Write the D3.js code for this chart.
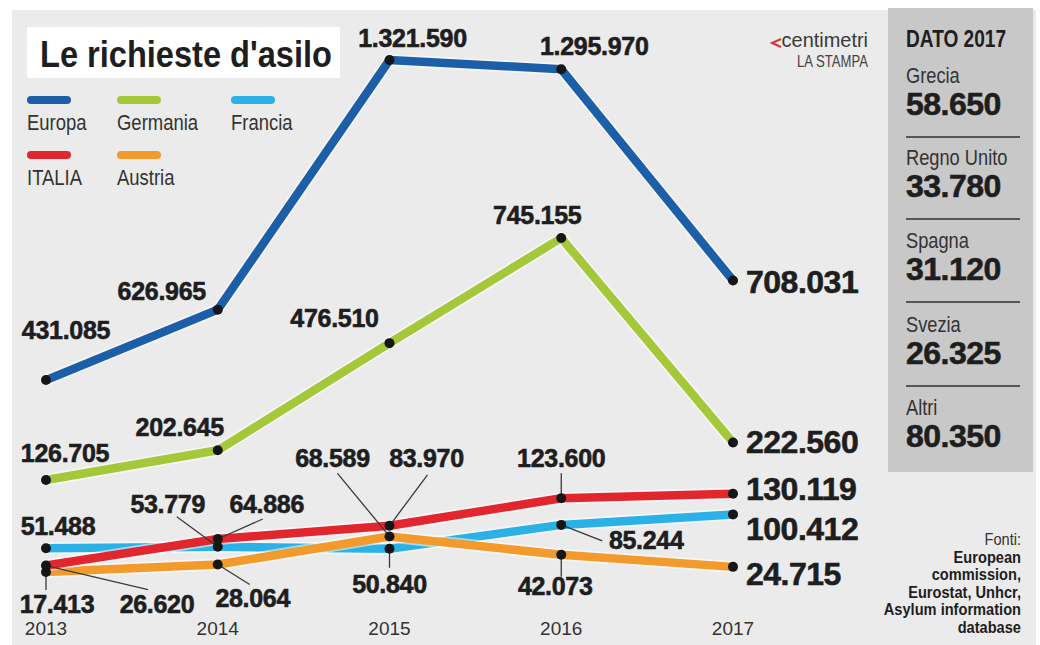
<!DOCTYPE html>
<html><head><meta charset="utf-8">
<script src="https://cdn.jsdelivr.net/npm/d3@7"></script>
<style>
html,body{margin:0;padding:0;background:#fff;}
svg{display:block;}
text{font-family:"Liberation Sans",Arial,sans-serif;}
.num{font-weight:bold;fill:#1e1e1e;stroke:#1e1e1e;stroke-width:0.6;}
</style></head>
<body>
<script>
// ---- data ----
const years = ["2013", "2014", "2015", "2016", "2017"];
const europa = [431085, 626965, 1321590, 1295970, 708031];
const germania = [126705, 202645, 476510, 745155, 222560];
const francia = [51488, 53779, 50840, 85244, 100412];
const italia = [26620, 64886, 83970, 123600, 130119];
const austria = [17413, 28064, 68589, 42073, 24715];
const seriesNames = ["Europa", "Germania", "Francia", "ITALIA", "Austria"];
const panelTitle = "DATO 2017";
const panelCountries = ["Grecia", "Regno Unito", "Spagna", "Svezia", "Altri"];
const panelValues = [58650, 33780, 31120, 26325, 80350];
const sources = ["European", "commission,", "Eurostat, Unhcr,", "Asylum information", "database"];

const W = 1040, H = 645;
const fmt = d3.formatLocale({decimal: ",", thousands: ".", grouping: [3], currency: ["", "€"]}).format(",d");

const svg = d3.select("body").append("svg").attr("width", W).attr("height", H);

// condensed text helper (horizontal squeeze)
function ntext(parent, x, y, str, size, opts = {}) {
  const g = parent.append("g").attr("transform", `translate(${x},${y}) scale(${opts.sx || 0.84},1)`);
  return g.append("text").attr("x", 0).attr("y", 0)
    .attr("font-size", size)
    .attr("font-weight", opts.bold ? "bold" : "normal")
    .attr("fill", opts.fill || "#333")
    .attr("text-anchor", opts.anchor || "start")
    .text(str);
}

// background panels
svg.append("rect").attr("x", 12).attr("y", 10).attr("width", 1024).attr("height", 635).attr("fill", "#ebebeb");
svg.append("rect").attr("x", 888).attr("y", 8).attr("width", 145).attr("height", 464).attr("fill", "#c8c8c8");

// scales (the original infographic uses separate, non-shared scales)
const x = d3.scalePoint().domain(years).range([46, 733]);
const yEU = d3.scaleLinear().domain([0, 1321590]).range([535, 60]);
const yDE = d3.scaleLinear().domain([0, 745155]).range([529.6, 238]);
const ySm = d3.scaleLinear().domain([0, 130119]).range([584, 493.8]);

const colors = {Europa: "#1c5ea7", Germania: "#a5c83b", Francia: "#2cb1e6", ITALIA: "#e2262d", Austria: "#f29b2c"};

// label placement: [dx, dy, anchor, size, leader dx, leader dy]
const S = 25, B = 32;
const series = [
  {name: "Francia", values: francia, y: ySm, labels: [
    [12, -13, "middle", S], [-50, -34, "middle", S, -41, -30], [0, 44, "middle", S, 0, 19], [85, 24, "middle", S, 41, 16], [13, 26, "start", B]]},
  {name: "Austria", values: austria, y: ySm, labels: [
    [11, 41, "middle", S, 0, 18], [35, 42, "middle", S, 32, 20], [-57, -69, "middle", S, -52, -63], [-6, 40, "middle", S, 0, 22], [13, 18, "start", B]]},
  {name: "ITALIA", values: italia, y: ySm, labels: [
    [111, 47, "middle", S, 102, 24], [49, -26, "middle", S, 45, -20], [37, -59, "middle", S, 38, -51], [0, -31, "middle", S, 0, -25], [13, 6, "start", B]]},
  {name: "Germania", values: germania, y: yDE, labels: [
    [19, -18, "middle", S], [-38, -14, "middle", S], [-55, -16, "middle", S], [-24, -14, "middle", S], [13, 10.5, "start", B]]},
  {name: "Europa", values: europa, y: yEU, labels: [
    [20, -41, "middle", S], [-56, -10, "middle", S], [23, -13, "middle", S], [33, -14, "middle", S], [13, 12.5, "start", B]]}
];

// title box
svg.append("rect").attr("x", 27).attr("y", 27).attr("width", 313).attr("height", 51).attr("fill", "#fff");
svg.append("text").attr("x", 40).attr("y", 67)
  .attr("font-size", 37).attr("font-weight", "bold").attr("fill", "#1e1e1e")
  .attr("textLength", 292).attr("lengthAdjust", "spacingAndGlyphs")
  .text("Le richieste d'asilo");

// legend
const legendPos = [[27, 100], [117, 100], [231, 100], [27, 155], [117, 155]];
seriesNames.forEach((n, i) => {
  const [lx, ly] = legendPos[i];
  svg.append("line").attr("x1", lx + 4).attr("x2", lx + 40).attr("y1", ly).attr("y2", ly)
    .attr("stroke", colors[n]).attr("stroke-width", 8).attr("stroke-linecap", "round");
  ntext(svg, lx, ly + 30, n, 22, {sx: 0.84});
});

// logo
svg.append("path").attr("d", "M781,39 L772,43 L781,47").attr("fill", "none").attr("stroke", "#d8343c").attr("stroke-width", 2);
ntext(svg, 868, 47, "centimetri", 21, {anchor: "end", fill: "#3a3a3a", sx: 0.95});
ntext(svg, 868, 67, "LA STAMPA", 16, {anchor: "end", fill: "#444", sx: 0.82});

// lines
const g = svg.append("g");
series.forEach(s => {
  const line = d3.line().x((d, i) => x(years[i])).y(d => s.y(d));
  g.append("path").datum(s.values).attr("d", line).attr("fill", "none")
    .attr("stroke", "#fff").attr("stroke-opacity", 0.55).attr("stroke-width", 12).attr("stroke-linejoin", "round");
  g.append("path").datum(s.values).attr("d", line).attr("fill", "none")
    .attr("stroke", colors[s.name]).attr("stroke-width", 8.5).attr("stroke-linejoin", "round");
});

// leader lines
series.forEach(s => {
  s.values.forEach((v, i) => {
    const L = s.labels[i];
    if (L.length > 4) {
      const px = x(years[i]), py = s.y(v);
      svg.append("line").attr("x1", px + L[4]).attr("y1", py + L[5]).attr("x2", px).attr("y2", py)
        .attr("stroke", "#3a3a3a").attr("stroke-width", 1.3);
    }
  });
});

// dots
series.forEach(s => {
  svg.append("g").selectAll("circle").data(s.values).join("circle")
    .attr("cx", (d, i) => x(years[i])).attr("cy", d => s.y(d)).attr("r", 5).attr("fill", "#161616");
});

// value labels
series.forEach(s => {
  s.values.forEach((v, i) => {
    const L = s.labels[i];
    svg.append("text").attr("class", "num")
      .attr("x", x(years[i]) + L[0]).attr("y", s.y(v) + L[1])
      .attr("text-anchor", L[2]).attr("font-size", L[3])
      .attr("letter-spacing", L[3] === B ? -0.5 : -0.3)
      .text(fmt(v));
  });
});

// x axis labels
svg.append("g").selectAll("text").data(years).join("text")
  .attr("x", d => x(d)).attr("y", 635).attr("text-anchor", "middle")
  .attr("font-size", 19).attr("fill", "#333")
  .text(d => d);

// right panel
ntext(svg, 906, 47, panelTitle, 23, {bold: true, fill: "#1e1e1e", sx: 0.83});
const rowTop = [83, 165, 248, 332, 415];
panelCountries.forEach((c, i) => {
  ntext(svg, 906, rowTop[i], c, 22, {sx: 0.83});
  svg.append("text").attr("class", "num").attr("x", 906).attr("y", rowTop[i] + 32)
    .attr("font-size", 32).attr("letter-spacing", -0.5).text(fmt(panelValues[i]));
  if (i < panelCountries.length - 1) {
    svg.append("line").attr("x1", 906).attr("x2", 1020).attr("y1", rowTop[i] + 54).attr("y2", rowTop[i] + 54)
      .attr("stroke", "#555").attr("stroke-width", 2);
  }
});

// sources
ntext(svg, 1021, 545, "Fonti:", 17, {anchor: "end", sx: 0.86});
sources.forEach((t, i) => {
  ntext(svg, 1021, 562.5 + i * 17.5, t, 17, {anchor: "end", bold: true, fill: "#1e1e1e", sx: 0.86});
});
</script>
</body></html>
